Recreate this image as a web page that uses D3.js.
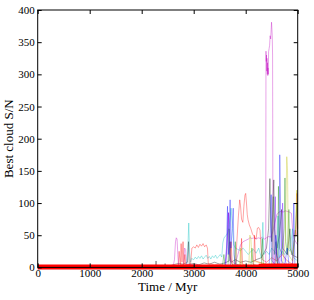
<!DOCTYPE html>
<html><head><meta charset="utf-8">
<script src="https://cdn.jsdelivr.net/npm/d3@7"></script>
<style>body{margin:0;background:#fff}svg{display:block}text{font-family:"Liberation Serif","DejaVu Serif",serif}</style>
</head><body>
<svg id="c" width="314" height="300"></svg>
<script>
const xTicks = [0, 1000, 2000, 3000, 4000, 5000];
const yTicks = [0, 50, 100, 150, 200, 250, 300, 350, 400];

// [time (Myr), S/N]
const magentaA = [[2600,0],[2630,12],[2650,40],[2665,46],[2680,44],[2695,20],[2710,0],[4380,0],[4385,0],[4390,336],[4395,320],[4400,330],[4405,305],[4410,325],[4415,300],[4420,318],[4425,298],[4430,310],[4435,300],[4440,335],[4450,340],[4460,345],[4470,360],[4480,355],[4490,370],[4497,381],[4503,372],[4510,360],[4517,330],[4525,0],[4600,0]];
const magentaB = [[2800,0],[2825,30],[2845,28],[2865,5],[3600,0],[3640,30],[3670,85],[3690,20],[3720,10],[3800,5],[3850,20],[3900,35],[3950,40],[4000,42],[4050,44],[4080,46],[4120,45],[4160,46],[4200,44],[4240,46],[4280,45],[4320,47],[4360,44],[4400,46],[4440,48],[4480,47],[4520,55],[4560,70],[4600,82],[4640,86],[4680,87],[4720,86],[4760,88],[4800,87],[4840,86],[4880,84],[4900,60],[4930,45],[4960,40],[5000,35]];
const blue = [[3600,0],[3630,30],[3650,95],[3665,20],[3685,40],[3700,105],[3715,30],[3740,60],[3760,92],[3775,20],[3800,5],[3900,2],[4450,0],[4475,60],[4490,113],[4505,10],[4560,5],[4580,50],[4600,10],[4640,0],[4655,175],[4670,100],[4685,10],[4750,5],[4800,30],[4830,5],[4900,0],[4925,100],[4945,5],[5000,0]];
const cyan = [[2860,0],[2885,25],[2905,69],[2920,25],[2940,8],[2960,14],[3000,12],[3030,16],[3060,13],[3090,17],[3120,14],[3150,18],[3180,13],[3210,16],[3240,19],[3270,14],[3300,17],[3330,13],[3360,18],[3390,15],[3420,19],[3450,14],[3480,17],[3510,20],[3540,16],[3560,38],[3580,45],[3600,48],[3630,50],[3660,55],[3690,70],[3720,92],[3745,60],[3770,35],[3800,30],[3850,28],[3900,26],[3950,30],[4000,25],[4050,20],[4100,25],[4150,28],[4200,22],[4250,30],[4300,15],[4330,70],[4350,20],[4400,25],[4450,20],[4500,30],[4550,25],[4600,20],[4620,80],[4640,15],[4700,25],[4750,20],[4800,30],[4850,25],[4900,60],[4920,15],[5000,10]];
const red = [[2740,0],[2758,37],[2775,8],[2795,40],[2812,5],[2830,20],[2850,3],[2940,5],[2965,30],[3000,32],[3030,30],[3060,35],[3090,31],[3120,36],[3150,33],[3180,37],[3210,32],[3240,35],[3265,30],[3280,6],[3400,4],[3500,5],[3600,3],[3800,0],[3830,40],[3860,80],[3885,105],[3900,96],[3920,75],[3945,70],[3965,95],[3985,112],[4000,115],[4015,100],[4030,82],[4045,74],[4070,66],[4100,60],[4130,52],[4160,48],[4200,44],[4225,61],[4250,62],[4275,58],[4295,30],[4320,12],[4400,8],[4500,15],[4600,10],[4700,20],[4800,10],[4900,5],[4930,40],[4955,58],[4970,50],[4985,115],[5000,60]];
const redB = [[2700,0],[2720,25],[2740,5],[3700,0],[3720,40],[3740,5],[3900,0],[3920,45],[3940,5],[4150,0],[4170,50],[4190,10],[4560,0],[4590,30],[4620,5]];
const green = [[3550,0],[3580,20],[3600,5],[3660,0],[3680,60],[3700,10],[3780,0],[3800,40],[3820,5],[4100,0],[4120,30],[4140,5],[4300,0],[4320,45],[4340,5],[4500,0],[4530,110],[4550,20],[4580,40],[4600,10],[4615,0],[4630,126],[4650,30],[4700,20],[4740,60],[4755,139],[4770,40],[4800,20],[4830,90],[4850,30],[4900,20],[4950,50],[4985,100],[5000,40]];
const yellow = [[3880,0],[3900,30],[3920,5],[4060,0],[4080,50],[4100,45],[4120,10],[4700,0],[4760,40],[4790,172],[4805,150],[4820,20],[4900,10],[4960,60],[4980,120],[5000,40]];
const black = [[2200,0],[2260,0],[2276,10],[2290,0],[2430,0],[2450,6],[2470,0],[2600,4],[2700,6],[2800,5],[2880,8],[2900,40],[2915,5],[3000,6],[3100,4],[3200,7],[3300,5],[3400,8],[3500,5],[3600,7],[3680,10],[3700,40],[3720,8],[3800,12],[3900,8],[4000,10],[4100,8],[4200,12],[4300,15],[4400,30],[4440,60],[4465,138],[4480,80],[4500,40],[4520,90],[4540,136],[4555,60],[4600,30],[4650,50],[4690,90],[4710,30],[4800,20],[4850,60],[4880,20],[5000,15]];
const purple = [[3620,0],[3650,50],[3670,85],[3690,30],[3710,0],[4540,0],[4570,110],[4590,20],[4680,0],[4710,100],[4730,20],[4800,0]];
const redBase = [[0,0.5],[1000,0.5],[2000,0.5],[3000,0.5],[4000,0.5],[5000,0.5]];
const redBaseLate = [[4250,2.5],[4500,3],[5000,3]];

const series = [
  {d: black, c: "#000000"},
  {d: magentaB, c: "#bf00bf"},
  {d: cyan, c: "#00bfbf"},
  {d: redB, c: "#ff0000"},
  {d: red, c: "#ff0000"},
  {d: green, c: "#008000"},
  {d: purple, c: "#6a00ff"},
  {d: yellow, c: "#bfbf00"},
  {d: blue, c: "#0000ff"},
  {d: magentaA, c: "#bf00bf"}
];

const svg = d3.select("#c");
const L = 37.7, R = 297.7, T = 10, B = 267.4;
const x = d3.scaleLinear().domain([0, 5000]).range([L, R]);
const y = d3.scaleLinear().domain([0, 400]).range([B, T]);
const line = d3.line().x(d => x(d[0])).y(d => y(d[1]));

const g = svg.append("g");
series.forEach(s => {
  g.append("path").attr("d", line(s.d)).attr("fill", "none")
    .attr("stroke", s.c).attr("stroke-opacity", 0.45).attr("stroke-width", 0.8);
});
g.append("path").attr("d", line(redBase)).attr("fill","none").attr("stroke","#ff0000").attr("stroke-width",5);
g.append("path").attr("d", line(redBaseLate)).attr("fill","none").attr("stroke","#ff0000").attr("stroke-width",4);

// axes
const ax = svg.append("g").attr("transform", `translate(0,${B})`)
  .call(d3.axisBottom(x).tickValues(xTicks).tickFormat(d3.format("d")).tickSizeInner(-4).tickSizeOuter(0).tickPadding(2));
const axT = svg.append("g").attr("transform", `translate(0,${T})`)
  .call(d3.axisTop(x).tickValues(xTicks).tickFormat("").tickSizeInner(-4).tickSizeOuter(0));
const ay = svg.append("g").attr("transform", `translate(${L},0)`)
  .call(d3.axisLeft(y).tickValues(yTicks).tickFormat(d3.format("d")).tickSizeInner(-4).tickSizeOuter(0).tickPadding(3));
const ayR = svg.append("g").attr("transform", `translate(${R},0)`)
  .call(d3.axisRight(y).tickValues(yTicks).tickFormat("").tickSizeInner(-4).tickSizeOuter(0));
[ax, axT, ay, ayR].forEach(a => {
  a.select(".domain").remove();
  a.selectAll("text").attr("font-size", 11).attr("font-family", "Liberation Serif").attr("fill", "#000");
  a.selectAll("line").attr("stroke", "#000");
});
svg.append("rect").attr("x", L).attr("y", T).attr("width", R - L).attr("height", B - T)
  .attr("fill", "none").attr("stroke", "#000").attr("stroke-width", 1);

svg.append("text").attr("x", (L + R) / 2).attr("y", 291).attr("text-anchor", "middle")
  .attr("font-size", 13).text("Time / Myr");
svg.append("text").attr("transform", `translate(13,${(T + B) / 2}) rotate(-90)`).attr("text-anchor", "middle")
  .attr("font-size", 13).text("Best cloud S/N");
</script>
</body></html>
